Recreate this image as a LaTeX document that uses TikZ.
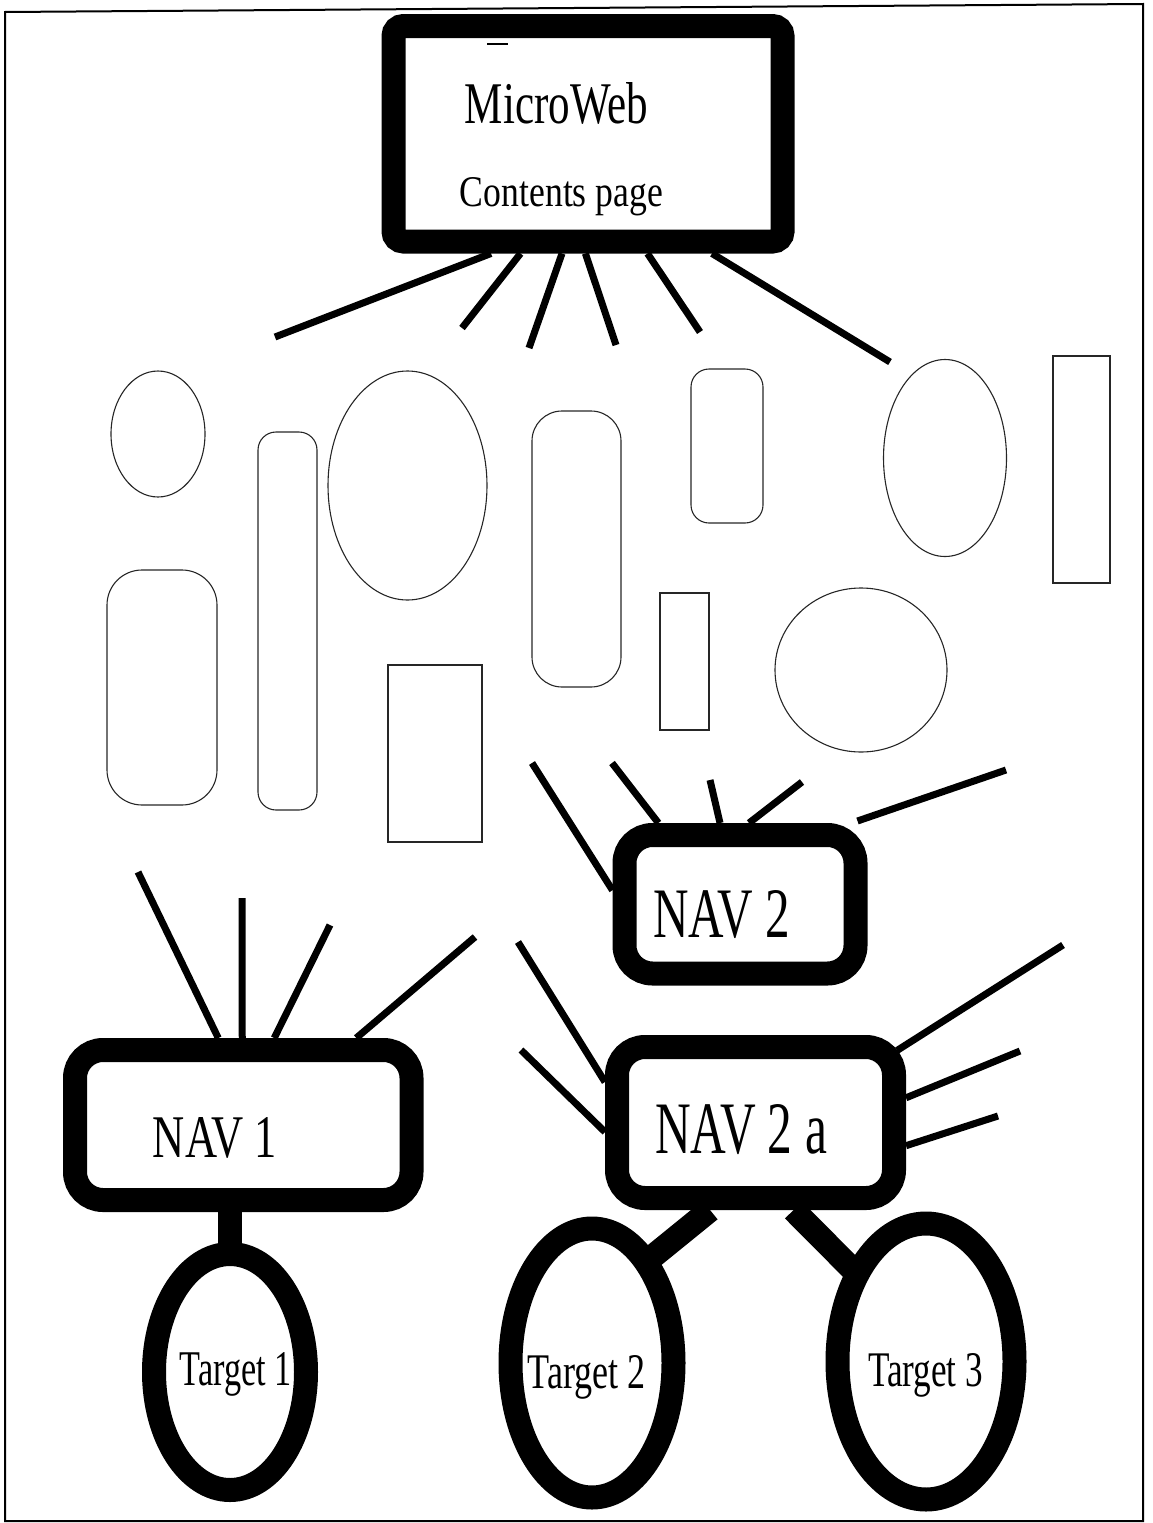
\documentclass[tikz,border=0pt]{standalone}
\usepackage{fontspec}
\usepackage{graphicx}
\setmainfont{Liberation Serif}
\usetikzlibrary{shapes.geometric,calc}

% text squeezed to a given ink width and height (pt)
\newcommand\boxtext[3]{\resizebox{#1pt}{#2pt}{#3}}

\tikzset{
  heavybox/.style={draw=black, line width=24pt, rounded corners=28pt,
                   inner sep=0pt, rectangle},
  ring/.style={draw=black, line width=24pt, ellipse, inner sep=0pt},
  caption/.style={inner sep=0pt, anchor=base},
  spoke/.style={line width=7pt},
  stem/.style={line width=24pt},
  thin/.style={line width=1.1pt, draw=black!85},
  frame/.style={line width=2pt}
}

\begin{document}
\begin{tikzpicture}[x=1pt, y=-1pt]
\useasboundingbox (0,0) rectangle (1153,1523);

% page frame
\draw[frame] (5,12) -- (1143,4) -- (1143,1521) -- (5,1521) -- cycle;

% ---------- main boxes ----------
\node[heavybox, rounded corners=10pt, minimum width=389pt, minimum height=215.5pt]
  (home) at (588,133.75) {};
\node[heavybox, minimum width=336.5pt, minimum height=150pt] (nav1) at (243.25,1125) {};
\node[heavybox, minimum width=231pt, minimum height=138.5pt] (nav2) at (740,904.25) {};
\node[heavybox, minimum width=277pt, minimum height=151pt] (nav2a) at (755.5,1122.5) {};

\node[ring, minimum width=152pt, minimum height=236pt] (t1) at (230,1372) {};
\node[ring, minimum width=163pt, minimum height=269pt] (t2) at (592,1363) {};
\node[ring, minimum width=177pt, minimum height=276pt] (t3) at (926,1361.5) {};

% ---------- labels ----------
\node[caption] (homeA) at (556.5,123) {\boxtext{183}{41}{MicroWeb}};
\node[caption] (homeB) at (561.5,206) {\boxtext{203}{29}{Contents page}};
\draw[line width=1.5pt] (487,44) -- (508,44);
\node[caption] (nav1t) at (215,1157) {\boxtext{124}{40}{NAV 1}};
\node[caption] (nav2t) at (721.5,937) {\boxtext{137}{47}{NAV 2}};
\node[caption] (nav2at) at (741,1153) {\boxtext{172}{49}{NAV 2 a}};
\node[caption] (t1t) at (236,1385) {\boxtext{112}{33}{Target 1}};
\node[caption] (t2t) at (587,1388) {\boxtext{118}{33}{Target 2}};
\node[caption] (t3t) at (925.5,1386) {\boxtext{115}{33}{Target 3}};

% ---------- links between boxes (ends sit on the ring's mid-line) ----------
\draw[stem] (t1.center |- nav1.south) -- ($(t1.center)+(0,-118)$);
\draw[stem] ($(nav2.south)+(-4,0)$) -- ($(nav2.south)+(-4,0)$ |- nav2a.north);
\draw[stem] ($(nav2a.south)+(-45.5,0)$) -- ($(t2.center)+(54,-101)$);
\draw[stem] ($(nav2a.south)+(38,0)$) -- ($(t3.center)+(-68.6,-87.2)$);

% ---------- free ends of the short links ----------
\coordinate (h1) at (275,337);
\coordinate (h2) at (462,328);
\coordinate (h3) at (529,348);
\coordinate (h4) at (616,345);
\coordinate (h5) at (700,332);
\coordinate (h6) at (890,362);

\coordinate (a1) at (138,872);
\coordinate (a2) at (242,898);
\coordinate (a3) at (330,925);
\coordinate (a4) at (475,937);

\coordinate (b1) at (532,763);
\coordinate (b2) at (612,763);
\coordinate (b3) at (710,780);
\coordinate (b4) at (802,782);
\coordinate (b5) at (1006,770);

\coordinate (c1) at (518,942);
\coordinate (c2) at (521,1050);
\coordinate (c3) at (1063,945);
\coordinate (c4) at (1020,1051);
\coordinate (c5) at (998,1116);

% contents page links
\draw[spoke] ($(home.south)+(-97,0)$) -- (h1);
\draw[spoke] ($(home.south)+(-67.5,0)$) -- (h2);
\draw[spoke] ($(home.south)+(-26,0)$) -- (h3);
\draw[spoke] ($(home.south)+(-2.6,0)$) -- (h4);
\draw[spoke] ($(home.south)+(59.5,0)$) -- (h5);
\draw[spoke] ($(home.south)+(124,0)$) -- (h6);

% NAV 1 links
\draw[spoke] ($(nav1.north)+(-25,0)$) -- (a1);
\draw[spoke] ($(nav1.north)+(-1,0)$) -- (a2);
\draw[spoke] ($(nav1.north)+(31,0)$) -- (a3);
\draw[spoke] ($(nav1.north)+(113,0)$) -- (a4);

% NAV 2 links
\draw[spoke] ($(nav2.west)+(0,-14)$) -- (b1);
\draw[spoke] ($(nav2.north)+(-81.6,0)$) -- (b2);
\draw[spoke] ($(nav2.north)+(-20,0)$) -- (b3);
\draw[spoke] ($(nav2.north)+(9,0)$) -- (b4);
\draw[spoke] ($(nav2.north east)+(-10,-2)$) -- (b5);

% NAV 2 a links
\draw[spoke] ($(nav2a.west)+(0,-40.5)$) -- (c1);
\draw[spoke] ($(nav2a.west)+(0,9.5)$) -- (c2);
\draw[spoke] ($(nav2a.east)+(-9,-72)$) -- (c3);
\draw[spoke] ($(nav2a.east)+(0,-24.7)$) -- (c4);
\draw[spoke] ($(nav2a.east)+(0,23.2)$) -- (c5);

% ---------- unlinked pages ----------
\draw[thin] (158,434) ellipse [x radius=47pt, y radius=63pt];
\draw[thin, rounded corners=35pt] (107,570) rectangle (217,805);
\draw[thin, rounded corners=18pt] (258,432) rectangle (317,810);
\draw[thin] (407.5,485.5) ellipse [x radius=79.5pt, y radius=114.5pt];
\draw[thin] (388,665) rectangle (482,842);
\draw[thin, rounded corners=30pt] (532,411) rectangle (621,687);
\draw[thin, rounded corners=18pt] (691,369) rectangle (763,523);
\draw[thin] (660,593) rectangle (709,730);
\draw[thin] (945,458) ellipse [x radius=61.5pt, y radius=98.5pt];
\draw[thin] (1053,356) rectangle (1110,583);
\draw[thin] (861,670) ellipse [x radius=86pt, y radius=82pt];
\end{tikzpicture}
\end{document}
